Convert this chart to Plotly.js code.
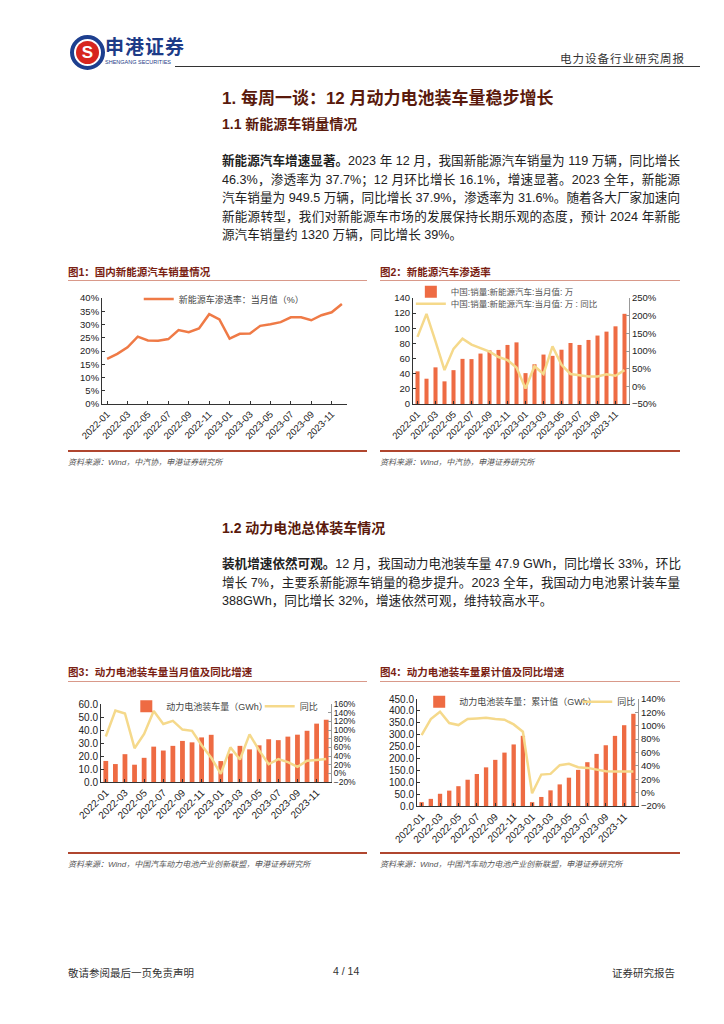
<!DOCTYPE html>
<html><head><meta charset="utf-8">
<script src="https://cdn.plot.ly/plotly-3.0.1.min.js"></script>
<style>
html,body{margin:0;padding:0;background:#fff;}
#page{position:relative;width:724px;height:1024px;background:#fff;font-family:"Liberation Sans","Noto Sans CJK SC",sans-serif;color:#222;overflow:hidden;}
.abs{position:absolute;white-space:nowrap;}
.h1{font-size:17px;font-weight:bold;color:#5a1a0c;}
.h2{font-size:14px;font-weight:bold;color:#5a1a0c;}
.line{position:absolute;left:222px;width:458px;font-size:12.6px;text-align:justify;text-align-last:justify;white-space:nowrap;color:#222;}
.last{text-align-last:left;}
.ftitle{font-size:10.5px;font-weight:bold;color:#7a1e12;}
.src{font-size:8px;font-style:italic;color:#555;}
.rule{position:absolute;height:1px;background:#d9998a;}
.rule2{position:absolute;height:1.5px;background:#b0462f;}
.chart{position:absolute;}
</style></head>
<body><div id="page">
<!-- header -->
<div class="abs" style="left:70px;top:35px;width:27px;height:27px;border-radius:50%;border:4px solid #1d3f8f;background:#fff;"></div>
<div class="abs" style="left:76px;top:41px;width:23px;height:23px;border-radius:50%;background:#d7261e;color:#fff;font-weight:bold;font-size:17px;line-height:23px;text-align:center;">S</div>
<div class="abs" style="left:105px;top:35px;font-size:19px;line-height:22px;font-weight:bold;color:#1d3b87;font-family:'Noto Sans CJK SC';letter-spacing:1px;">申港证券</div>
<div class="abs" style="left:105px;top:59px;font-size:5.5px;line-height:6px;color:#1d3b87;">SHENGANG SECURITIES</div>
<div class="abs" style="left:560px;top:50px;font-size:11.5px;color:#333;letter-spacing:1px;">电力设备行业研究周报</div>
<div class="abs" style="left:175px;top:66px;width:525px;height:1px;background:#333;"></div>

<div class="abs h1" style="left:222px;top:84px;">1. 每周一谈：12 月动力电池装车量稳步增长</div>
<div class="abs h2" style="left:222px;top:113px;">1.1 新能源车销量情况</div>

<div class="line" style="top:150px;"><b>新能源汽车增速显著。</b>2023 年 12 月，我国新能源汽车销量为 119 万辆，同比增长</div>
<div class="line" style="top:168.5px;">46.3%，渗透率为 37.7%；12 月环比增长 16.1%，增速显著。2023 全年，新能源</div>
<div class="line" style="top:187px;">汽车销量为 949.5 万辆，同比增长 37.9%，渗透率为 31.6%。随着各大厂家加速向</div>
<div class="line" style="top:205.5px;">新能源转型，我们对新能源车市场的发展保持长期乐观的态度，预计 2024 年新能</div>
<div class="line last" style="top:224px;width:auto;">源汽车销量约 1320 万辆，同比增长 39%。</div>

<div class="abs ftitle" style="left:68px;top:264px;">图1：国内新能源汽车销量情况</div>
<div class="rule" style="left:68px;top:280px;width:299px;"></div>
<div class="abs ftitle" style="left:380px;top:264px;">图2：新能源汽车渗透率</div>
<div class="rule" style="left:380px;top:280px;width:300px;"></div>

<div id="c1" class="chart" style="left:60px;top:285px;width:310px;height:165px;"></div>
<div id="c2" class="chart" style="left:370px;top:285px;width:320px;height:165px;"></div>

<div class="rule2" style="left:68px;top:450px;width:299px;"></div>
<div class="rule2" style="left:380px;top:450px;width:300px;"></div>
<div class="abs src" style="left:68px;top:456px;">资料来源：Wind，中汽协，申港证券研究所</div>
<div class="abs src" style="left:380px;top:456px;">资料来源：Wind，中汽协，申港证券研究所</div>

<div class="abs h2" style="left:222px;top:517px;">1.2 动力电池总体装车情况</div>
<div class="line" style="top:553px;"><b>装机增速依然可观。</b>12 月，我国动力电池装车量 47.9 GWh，同比增长 33%，环比</div>
<div class="line" style="top:571.5px;">增长 7%，主要系新能源车销量的稳步提升。2023 全年，我国动力电池累计装车量</div>
<div class="line last" style="top:590px;width:auto;">388GWh，同比增长 32%，增速依然可观，维持较高水平。</div>

<div class="abs ftitle" style="left:68px;top:664px;">图3：动力电池装车量当月值及同比增速</div>
<div class="rule" style="left:68px;top:681px;width:299px;"></div>
<div class="abs ftitle" style="left:380px;top:664px;">图4：动力电池装车量累计值及同比增速</div>
<div class="rule" style="left:380px;top:681px;width:300px;"></div>

<div id="c3" class="chart" style="left:60px;top:690px;width:310px;height:160px;"></div>
<div id="c4" class="chart" style="left:370px;top:690px;width:320px;height:160px;"></div>

<div class="rule2" style="left:68px;top:852px;width:299px;"></div>
<div class="rule2" style="left:380px;top:852px;width:300px;"></div>
<div class="abs src" style="left:68px;top:858px;">资料来源：Wind，中国汽车动力电池产业创新联盟，申港证券研究所</div>
<div class="abs src" style="left:380px;top:858px;">资料来源：Wind，中国汽车动力电池产业创新联盟，申港证券研究所</div>

<div class="abs" style="left:68px;top:965px;font-size:10.5px;color:#333;">敬请参阅最后一页免责声明</div>
<div class="abs" style="left:333px;top:965px;font-size:10.5px;color:#333;">4 / 14</div>
<div class="abs" style="left:612px;top:965px;font-size:10.5px;color:#333;">证券研究报告</div>
</div>
<script>
// ---- data ----
const months = ['2022-01','2022-02','2022-03','2022-04','2022-05','2022-06','2022-07','2022-08','2022-09','2022-10','2022-11','2022-12',
                '2023-01','2023-02','2023-03','2023-04','2023-05','2023-06','2023-07','2023-08','2023-09','2023-10','2023-11','2023-12'];
const tickLabels = ['2022-01','2022-03','2022-05','2022-07','2022-09','2022-11','2023-01','2023-03','2023-05','2023-07','2023-09','2023-11'];
const penetration = [17.0,18.9,21.4,25.4,24.0,23.9,24.5,27.9,27.1,28.5,33.9,31.9,24.7,26.5,26.6,29.5,30.1,30.9,32.7,32.7,31.6,33.5,34.6,37.7];
const nevSales = [43.1,33.4,48.4,29.9,44.7,59.6,59.3,66.6,70.8,71.4,78.0,81.4,40.8,52.5,65.3,63.6,71.7,80.6,78.0,84.6,90.4,95.6,102.6,119.1];
const nevSalesYoy = [140,205,127,46,106,135,118,107,98,83,74,53,-6,57,35,113,61,35,32,28,28,34,30,46];
const batteryMonthly = [16.2,13.8,21.4,13.3,18.6,27.2,24.2,27.8,31.6,30.5,34.3,36.3,16.1,21.9,27.8,25.1,28.2,32.9,32.2,34.9,36.4,39.4,44.9,47.9];
const batteryMonthlyYoy = [85,145,138,58,91,144,114,121,101,98,65,36,-1,60,32,90,53,21,33,26,15,29,31,33];
const batteryCum = [16.2,30.0,51.4,64.7,83.3,110.5,134.7,162.5,194.1,224.6,258.9,295.2,16.1,38.0,65.8,90.9,119.1,152.0,184.2,219.1,255.5,294.9,339.8,387.7];
const batteryCumYoy = [86,110,121,104,101,110,111,112,110,109,102,91,-1,27,28,41,43,38,37,35,32,31.5,31.5,31.5];

const FONT = 'Liberation Sans, Noto Sans CJK SC, sans-serif';
const BAR = '#ee6b43', YEL = '#f5d98b', LINE1 = '#ef7a46';
const cfg = {staticPlot:true, displayModeBar:false};

function xaxis(fs){
  return {type:'category', range:[-0.5,23.5], tickmode:'array', tickvals:tickLabels, ticktext:tickLabels,
    tickangle:-45, tickfont:{size:fs, color:'#222'}, showline:true, linecolor:'#333', linewidth:1,
    ticks:'inside', ticklen:3, tickcolor:'#333', showgrid:false, zeroline:false, fixedrange:true, automargin:false};
}
function yaxis(range, dtick, fmt, suffix, fs){
  return {range:range, dtick:dtick, tickformat:fmt, ticksuffix:suffix, tickfont:{size:fs, color:'#222'},
    showline:true, linecolor:'#333', linewidth:1, ticks:'inside', ticklen:3, tickcolor:'#333',
    showgrid:false, zeroline:false, fixedrange:true, automargin:false};
}
function leg(x, y, color, fs){
  return {x:x, y:y, xanchor:'left', yanchor:'middle', orientation:'h', font:{size:fs, color:color},
    bgcolor:'rgba(0,0,0,0)', borderwidth:0, itemwidth:30};
}
function margin(l, r, t, b){ return {l:l, r:r, t:t, b:b, pad:0, autoexpand:false}; }

// chart 1
Plotly.newPlot('c1', [{
  type:'scatter', mode:'lines', x:months, y:penetration, name:'新能源车渗透率：当月值（%）',
  line:{color:LINE1, width:2.5}
}], {
  width:310, height:165, margin:margin(42,23,13,46), paper_bgcolor:'rgba(0,0,0,0)', plot_bgcolor:'rgba(0,0,0,0)',
  font:{family:FONT, size:9, color:'#222'},
  xaxis:xaxis(9.5), yaxis:yaxis([0,40],5,'d','%',9.5),
  showlegend:true, legend:leg(0.15, 0.99, '#444', 9)
}, cfg);

// chart 2
Plotly.newPlot('c2', [
  {type:'bar', x:months, y:nevSales, name:'中国:销量:新能源汽车:当月值: 万', marker:{color:BAR}, width:0.45, legend:'legend'},
  {type:'scatter', mode:'lines', x:months, y:nevSalesYoy, yaxis:'y2', name:'中国:销量:新能源汽车:当月值: 万 : 同比', line:{color:YEL, width:2.5}, legend:'legend2'}
], {
  width:320, height:165, margin:margin(43,61,13,46), paper_bgcolor:'rgba(0,0,0,0)', plot_bgcolor:'rgba(0,0,0,0)',
  font:{family:FONT, size:9, color:'#222'},
  xaxis:xaxis(9.5), yaxis:yaxis([0,140],20,'d','',9.5),
  yaxis2:Object.assign(yaxis([-50,250],50,'d','%',9.5), {overlaying:'y', side:'right', linecolor:'#999', tickcolor:'#999'}),
  showlegend:true, legend:leg(-0.01, 1.06, '#555', 8.5), legend2:leg(-0.01, 0.945, '#555', 8.5)
}, cfg);

// chart 3
Plotly.newPlot('c3', [
  {type:'bar', x:months, y:batteryMonthly, name:'动力电池装车量（GWh）', marker:{color:BAR}, width:0.5, legend:'legend'},
  {type:'scatter', mode:'lines', x:months, y:batteryMonthlyYoy, yaxis:'y2', name:'同比', line:{color:YEL, width:2.5}, legend:'legend2'}
], {
  width:310, height:160, margin:margin(41,39,14,68), paper_bgcolor:'rgba(0,0,0,0)', plot_bgcolor:'rgba(0,0,0,0)',
  font:{family:FONT, size:9.5, color:'#222'},
  xaxis:xaxis(10), yaxis:yaxis([0,60],10,'.1f','',10),
  yaxis2:Object.assign(yaxis([-20,160],20,'d','%',8.5), {overlaying:'y', side:'right', linecolor:'#999', tickcolor:'#999'}),
  showlegend:true, legend:leg(0.11, 0.97, '#444', 9), legend2:leg(0.69, 0.97, '#444', 9)
}, cfg);

// chart 4
Plotly.newPlot('c4', [
  {type:'bar', x:months, y:batteryCum, name:'动力电池装车量：累计值（GWh）', marker:{color:BAR}, width:0.47, legend:'legend'},
  {type:'scatter', mode:'lines', x:months, y:batteryCumYoy, yaxis:'y2', name:'同比', line:{color:YEL, width:2.5}, legend:'legend2'}
], {
  width:320, height:160, margin:margin(47,52,9,44), paper_bgcolor:'rgba(0,0,0,0)', plot_bgcolor:'rgba(0,0,0,0)',
  font:{family:FONT, size:9.5, color:'#222'},
  xaxis:xaxis(10), yaxis:yaxis([0,450],50,'.1f','',10),
  yaxis2:Object.assign(yaxis([-20,140],20,'d','%',9.5), {overlaying:'y', side:'right', linecolor:'#999', tickcolor:'#999'}),
  showlegend:true, legend:leg(0.01, 0.975, '#444', 9), legend2:leg(0.725, 0.975, '#444', 9)
}, cfg);
</script>
</body></html>
